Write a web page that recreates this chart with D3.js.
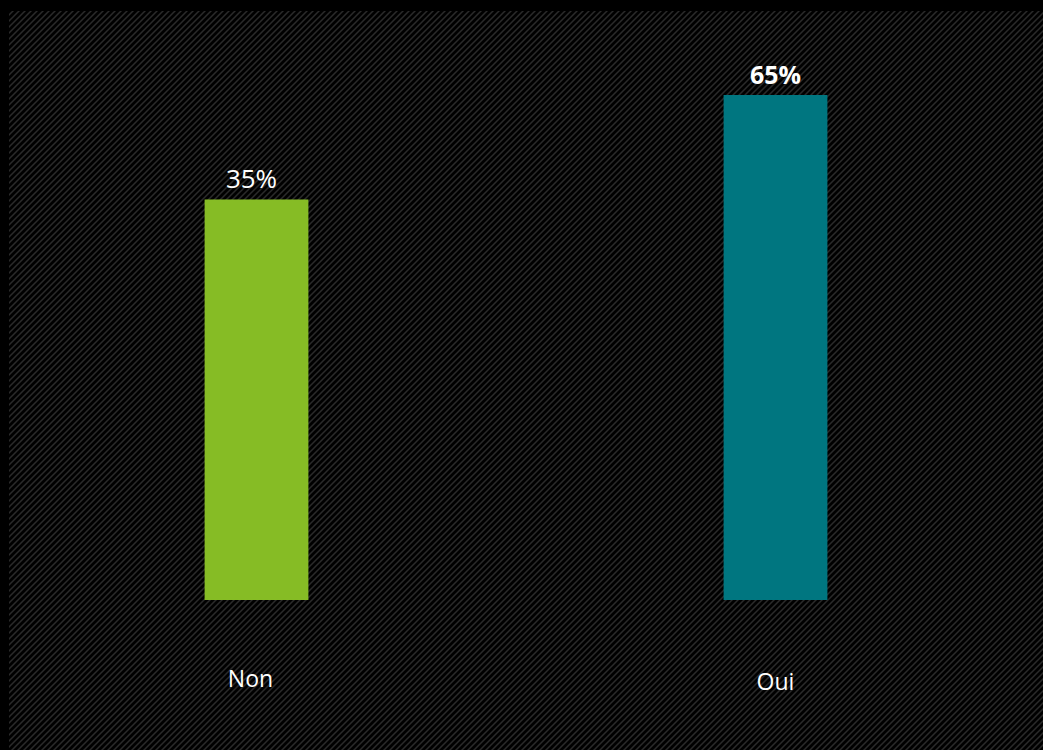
<!DOCTYPE html>
<html>
<head>
<meta charset="utf-8">
<script src="https://cdn.jsdelivr.net/npm/d3@7"></script>
<style>
  html, body { margin: 0; padding: 0; background: #000; }
  svg { display: block; }
</style>
</head>
<body>
<div id="chart"></div>
<script>
// data
const categories = ["Non", "Oui"];
const values = [35, 65];
const valueLabels = ["35%", "65%"];
const barColors = ["#86BC25", "#007680"];
const boldLabel = [false, true];

const width = 1043;
const height = 750;

const svg = d3.select("#chart").append("svg")
  .attr("width", width)
  .attr("height", height);

// hatched background
const defs = svg.append("defs");
const pat = defs.append("pattern")
  .attr("id", "hatch")
  .attr("patternUnits", "userSpaceOnUse")
  .attr("width", 6)
  .attr("height", 6);
pat.append("rect").attr("width", 6).attr("height", 6).attr("fill", "#000");
pat.append("path")
  .attr("d", "M-1,1 l2,-2 M0,6 l6,-6 M5,7 l2,-2")
  .attr("stroke", "#2a2a2a")
  .attr("stroke-width", 1.5);

svg.append("rect").attr("width", width).attr("height", height).attr("fill", "#000");
svg.append("rect")
  .attr("x", 9).attr("y", 11)
  .attr("width", width - 9).attr("height", height - 11)
  .attr("fill", "url(#hatch)");

// scales (value axis in the original does not start at zero)
const x = d3.scaleBand()
  .domain(categories)
  .range([-3, 1035])
  .paddingInner(0.8)
  .paddingOuter(0.4);

const y = d3.scaleLinear()
  .domain([-80, 65])
  .range([600, 95]);

const data = categories.map((c, i) => ({
  cat: c, value: values[i], label: valueLabels[i], color: barColors[i], bold: boldLabel[i]
}));

svg.selectAll("rect.bar")
  .data(data)
  .enter().append("rect")
  .attr("class", "bar")
  .attr("x", d => x(d.cat))
  .attr("y", d => y(d.value))
  .attr("width", x.bandwidth())
  .attr("height", d => y.range()[0] - y(d.value))
  .attr("fill", d => d.color);

// value labels
svg.selectAll("text.val")
  .data(data)
  .enter().append("text")
  .attr("class", "val")
  .attr("x", (d, i) => x(d.cat) + x.bandwidth() / 2 + (i === 0 ? -5 : 0))
  .attr("y", d => y(d.value) - 11)
  .attr("text-anchor", "middle")
  .style("font-family", "'Open Sans', sans-serif")
  .style("font-size", d => d.bold ? "25px" : "26px")
  .style("font-weight", d => d.bold ? "700" : "400")
  .style("fill", "#fff")
  .text(d => d.label);

// category labels
svg.selectAll("text.cat")
  .data(data)
  .enter().append("text")
  .attr("class", "cat")
  .attr("x", (d, i) => x(d.cat) + x.bandwidth() / 2 + (i === 0 ? -6 : 0))
  .attr("y", (d, i) => i === 0 ? 687 : 690)
  .attr("text-anchor", "middle")
  .style("font-family", "'Open Sans', sans-serif")
  .style("font-size", "23px")
  .style("fill", "#fff")
  .text(d => d.cat);
</script>
</body>
</html>
